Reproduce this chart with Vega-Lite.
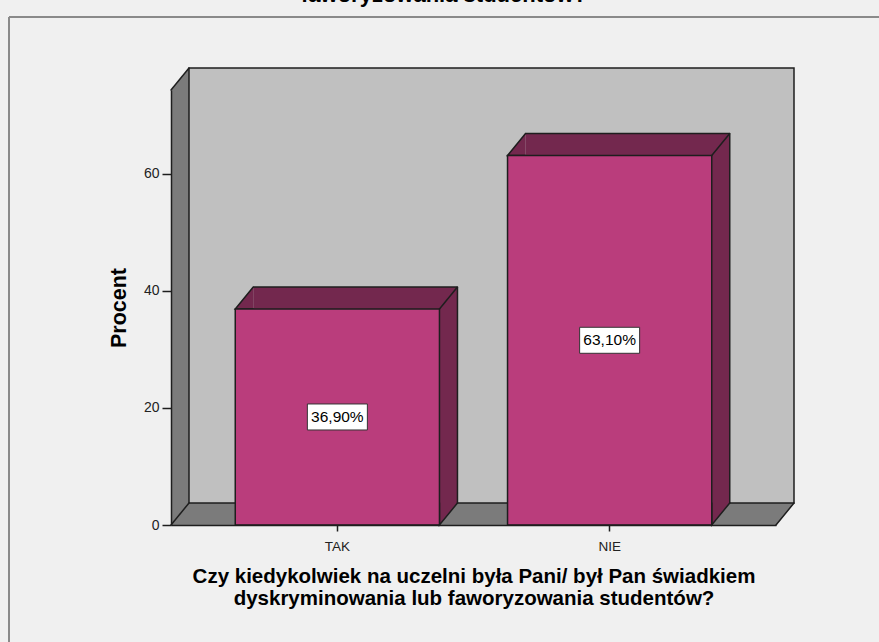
{
  "$schema": "https://vega.github.io/schema/vega-lite/v6.json",
  "width": 870,
  "height": 625,
  "autosize": {"type": "none"},
  "padding": {"left": 9, "top": 17, "right": 0, "bottom": 0},
  "background": "#f0f0f0",
  "config": {
    "font": "Liberation Sans",
    "view": {"fill": "#f0f0f0", "stroke": "#8a8a8a", "strokeWidth": 2, "strokeDash": [870, 1495, 625, 0]},
    "locale": {"number": {"decimal": ",", "thousands": " ", "grouping": [3], "currency": ["", "%"]}}
  },
  "title": {
    "text": ["Czy kiedykolwiek na uczelni była Pani/ był Pan świadkiem dyskryminowania lub", "faworyzowania studentów?"],
    "fontSize": 22,
    "fontWeight": "bold",
    "color": "#000000",
    "anchor": "middle",
    "frame": "group",
    "baseline": "bottom",
    "lineHeight": 24,
    "offset": 0,
    "dy": 12
  },
  "data": {
    "values": [
      {"kat": "TAK", "procent": 36.9},
      {"kat": "NIE", "procent": 63.1}
    ]
  },
  "resolve": {"scale": {"x": "independent", "y": "independent"}},
  "layer": [
    {
      "data": {"values": [{}]},
      "layer": [
        {
          "mark": {"type": "rect", "fill": "#7b7b7b", "strokeWidth": 0, "x2Offset": 18},
          "encoding": {
            "x": {"datum": 0, "type": "quantitative", "scale": {"domain": [0, 1], "range": [162, 767], "nice": false, "zero": false}, "axis": null},
            "x2": {"datum": 0},
            "y": {"datum": 0, "type": "quantitative", "scale": {"domain": [0, 74.3], "range": [508, 73], "nice": false, "zero": false}, "axis": null},
            "y2": {"datum": 74.3}
          }
        },
        {
          "mark": {"type": "rect", "fill": "#7b7b7b", "strokeWidth": 0, "y2Offset": -22},
          "encoding": {
            "x": {"datum": 0, "type": "quantitative", "axis": null},
            "x2": {"datum": 1},
            "y": {"datum": 0, "type": "quantitative", "axis": null},
            "y2": {"datum": 0}
          }
        },
        {
          "mark": {"type": "point", "shape": "M0,0L18,-22L18,0Z", "size": 4, "filled": true, "fill": "#7b7b7b", "strokeWidth": 0, "opacity": 1},
          "encoding": {
            "x": {"datum": 0, "type": "quantitative", "axis": null},
            "y": {"datum": 74.3, "type": "quantitative", "axis": null}
          }
        },
        {
          "mark": {"type": "point", "shape": "M0,0L18,-22L0,-22Z", "size": 4, "filled": true, "fill": "#7b7b7b", "strokeWidth": 0, "opacity": 1},
          "encoding": {
            "x": {"datum": 1, "type": "quantitative", "axis": null},
            "y": {"datum": 0, "type": "quantitative", "axis": null}
          }
        },
        {
          "mark": {"type": "rect", "fill": "#c0c0c0", "stroke": "#1e1e1e", "strokeWidth": 1.5, "xOffset": 18, "x2Offset": 18, "yOffset": -22, "y2Offset": -22},
          "encoding": {
            "x": {"datum": 0, "type": "quantitative", "axis": null},
            "x2": {"datum": 1},
            "y": {"datum": 0, "type": "quantitative", "axis": null},
            "y2": {"datum": 74.3}
          }
        },
        {
          "mark": {"type": "point", "shape": "M0,0L18,-22", "size": 4, "filled": false, "stroke": "#1e1e1e", "strokeWidth": 1.5, "strokeCap": "round", "opacity": 1},
          "encoding": {
            "x": {"datum": 0, "type": "quantitative", "axis": null},
            "y": {"datum": 74.3, "type": "quantitative", "axis": null}
          }
        },
        {
          "mark": {"type": "point", "shape": "M0,0L18,-22", "size": 4, "filled": false, "stroke": "#1e1e1e", "strokeWidth": 1.5, "strokeCap": "round", "opacity": 1},
          "encoding": {
            "x": {"datum": 0, "type": "quantitative", "axis": null},
            "y": {"datum": 0, "type": "quantitative", "axis": null}
          }
        },
        {
          "mark": {"type": "point", "shape": "M0,0L18,-22", "size": 4, "filled": false, "stroke": "#1e1e1e", "strokeWidth": 1.5, "strokeCap": "round", "opacity": 1},
          "encoding": {
            "x": {"datum": 1, "type": "quantitative", "axis": null},
            "y": {"datum": 0, "type": "quantitative", "axis": null}
          }
        }
      ]
    },
    {
      "encoding": {
        "x": {
          "field": "kat",
          "type": "nominal",
          "sort": null,
          "scale": {"type": "band", "domain": ["TAK", "NIE"], "range": [162, 767], "paddingInner": 0.25, "paddingOuter": 0.236},
          "axis": {
            "orient": "bottom",
            "offset": -117,
            "zindex": 1,
            "domainColor": "#1e1e1e",
            "domainWidth": 1.5,
            "tickColor": "#1e1e1e",
            "tickWidth": 1.5,
            "tickSize": 6,
            "labelAngle": 0,
            "labelFontSize": 13.5,
            "labelColor": "#222222",
            "labelPadding": 8,
            "title": ["Czy kiedykolwiek na uczelni była Pani/ był Pan świadkiem", "dyskryminowania lub faworyzowania studentów?"],
            "titleFontSize": 20.5,
            "titleFontWeight": "bold",
            "titleColor": "#000000",
            "titleLineHeight": 21.5,
            "titlePadding": 14
          }
        },
        "y": {
          "field": "procent",
          "type": "quantitative",
          "scale": {"domain": [0, 74.3], "range": [508, 73], "nice": false, "zero": false},
          "axis": {
            "orient": "left",
            "offset": -162,
            "zindex": 1,
            "values": [0, 20, 40, 60],
            "grid": false,
            "domainColor": "#1e1e1e",
            "domainWidth": 1.5,
            "tickColor": "#1e1e1e",
            "tickWidth": 1.5,
            "tickSize": 9,
            "labelFontSize": 14,
            "labelColor": "#222222",
            "labelPadding": 3,
            "title": "Procent",
            "titleFontSize": 21.5,
            "titleFontWeight": "bold",
            "titleColor": "#000000",
            "titlePadding": 13
          }
        }
      },
      "layer": [
        {
          "mark": {"type": "bar", "fill": "#73284e", "strokeWidth": 0, "xOffset": 18, "x2Offset": 18, "yOffset": -22, "y2Offset": -22},
          "encoding": {"y2": {"datum": 0}}
        },
        {
          "mark": {"type": "bar", "fillOpacity": 0, "stroke": "#1e1e1e", "strokeWidth": 1.5, "xOffset": 18, "x2Offset": 18, "yOffset": -22, "y2Offset": -22},
          "encoding": {"y2": {"field": "procent"}}
        },
        {
          "mark": {"type": "rule", "stroke": "#1e1e1e", "strokeWidth": 1.5, "xOffset": 18, "yOffset": -22, "y2Offset": -22},
          "encoding": {
            "x": {"field": "kat", "type": "nominal", "bandPosition": 1},
            "y2": {"datum": 0}
          }
        },
        {
          "mark": {"type": "point", "shape": "M18,0L0,0L18,-22", "size": 4, "filled": true, "fill": "#73284e", "stroke": "#1e1e1e", "strokeWidth": 1.5, "strokeCap": "round", "opacity": 1},
          "encoding": {
            "x": {"field": "kat", "type": "nominal", "bandPosition": 0}
          }
        },
        {
          "mark": {"type": "point", "shape": "M18,-22L0,0L0,-22", "size": 4, "filled": true, "fill": "#73284e", "stroke": "#1e1e1e", "strokeWidth": 1.5, "strokeCap": "round", "opacity": 1},
          "encoding": {
            "x": {"field": "kat", "type": "nominal", "bandPosition": 1},
            "y": {"datum": 0, "type": "quantitative"}
          }
        },
        {
          "mark": {"type": "point", "shape": "M0,0L18,-22", "size": 4, "filled": false, "stroke": "#1e1e1e", "strokeWidth": 1.5, "strokeCap": "round", "opacity": 1},
          "encoding": {
            "x": {"field": "kat", "type": "nominal", "bandPosition": 1}
          }
        },
        {
          "mark": {"type": "bar", "fill": "#ba3d7c", "stroke": "#1e1e1e", "strokeWidth": 1.5},
          "encoding": {"y2": {"datum": 0}}
        }
      ]
    },
    {
      "encoding": {
        "x": {
          "field": "kat",
          "type": "nominal",
          "sort": null,
          "scale": {"type": "band", "domain": ["TAK", "NIE"], "range": [162, 767], "paddingInner": 0.25, "paddingOuter": 0.236},
          "axis": null
        },
        "y": {
          "field": "procent",
          "type": "quantitative",
          "scale": {"domain": [0, 148.6], "range": [508, 73], "nice": false, "zero": false},
          "axis": null
        }
      },
      "layer": [
        {
          "mark": {"type": "point", "shape": "M-30,-13H30V13H-30Z", "size": 4, "filled": true, "fill": "#ffffff", "stroke": "#333333", "strokeWidth": 1, "opacity": 1}
        },
        {
          "mark": {"type": "text", "fontSize": 15.5, "color": "#000000", "align": "center", "baseline": "middle"},
          "encoding": {"text": {"field": "procent", "type": "quantitative", "format": "$.2f"}}
        }
      ]
    }
  ]
}
